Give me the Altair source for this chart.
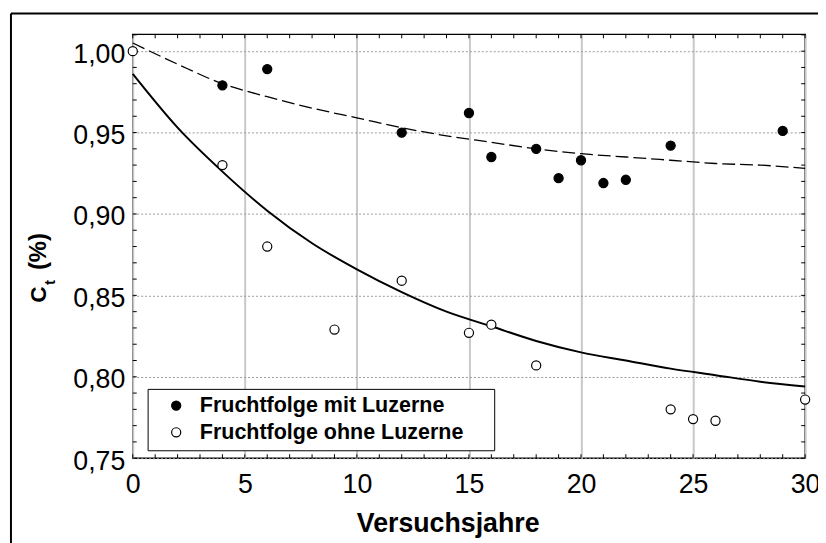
import altair as alt
import pandas as pd

FONT = "Liberation Sans, Arial, Helvetica, sans-serif"

# ---------------- data ----------------
series_names = ["Fruchtfolge mit Luzerne", "Fruchtfolge ohne Luzerne"]

years_mit = [4, 6, 12, 15, 16, 18, 19, 20, 21, 22, 24, 29]
ct_mit = [0.979, 0.989, 0.950, 0.962, 0.935, 0.940, 0.922, 0.933, 0.919, 0.921, 0.942, 0.951]

years_ohne = [0, 4, 6, 9, 12, 15, 16, 18, 24, 25, 26, 30]
ct_ohne = [1.000, 0.930, 0.880, 0.829, 0.859, 0.827, 0.832, 0.807, 0.780, 0.774, 0.773, 0.786]

curve_years = [0, 2, 4, 6, 8, 10, 12, 14, 16, 18, 20, 22, 24, 26, 28, 30]
fit_mit = [1.005, 0.992, 0.980, 0.972, 0.965, 0.959, 0.953, 0.948, 0.944, 0.940,
           0.937, 0.935, 0.933, 0.931, 0.930, 0.928]
fit_ohne = [0.986, 0.953, 0.926, 0.902, 0.882, 0.866, 0.852, 0.840, 0.831, 0.822,
            0.815, 0.810, 0.805, 0.801, 0.797, 0.794]

x_ticks_major = [0, 5, 10, 15, 20, 25, 30]
y_ticks_major = [0.75, 0.80, 0.85, 0.90, 0.95, 1.00]
x_ticks_minor = [0, 1, 2, 3, 4, 5, 6, 7, 8, 9, 10, 11, 12, 13, 14, 15, 16, 17, 18, 19,
                 20, 21, 22, 23, 24, 25, 26, 27, 28, 29, 30]
y_ticks_minor = [0.75, 0.76, 0.77, 0.78, 0.79, 0.80, 0.81, 0.82, 0.83, 0.84, 0.85, 0.86,
                 0.87, 0.88, 0.89, 0.90, 0.91, 0.92, 0.93, 0.94, 0.95, 0.96, 0.97, 0.98,
                 0.99, 1.00, 1.01]

x_title = "Versuchsjahre"
y_title_main = "C"
y_title_sub = "t"
y_title_unit = "(%)"

# ---------------- layout ----------------
W, H = 679, 428
x_domain = [0, 30]
y_domain = [0.75, 1.0103]

xs = alt.Scale(domain=x_domain, nice=False, zero=False)
ys = alt.Scale(domain=y_domain, nice=False, zero=False)

x_axis = alt.Axis(
    values=x_ticks_major, title=x_title, format="d",
    domain=False, ticks=False, tickSize=0,
    labelFont=FONT, labelFontSize=27, labelColor="black", labelPadding=14,
    labelFlush=False, labelOverlap=False,
    grid=True, gridColor="#c8c8c8", gridWidth=2, gridOpacity=1,
    titleFont=FONT, titleFontSize=27, titleFontWeight="bold", titleColor="black",
    titleX=318, titleY=53, titleAlign="center", titleBaseline="top",
)
y_axis = alt.Axis(
    values=y_ticks_major, title=None,
    domain=False, ticks=False, tickSize=0,
    labelFont=FONT, labelFontSize=27, labelColor="black", labelPadding=8,
    labelExpr="replace(format(datum.value, '.2f'), '.', ',')",
    labelOffset=3, labelOverlap=False,
    grid=True, gridColor="#9a9a9a", gridDash=[2, 2], gridWidth=1, gridOpacity=1,
)

X = alt.X("x:Q", scale=xs, axis=x_axis)
Y = alt.Y("y:Q", scale=ys, axis=y_axis)

pts = pd.DataFrame({
    "x": years_mit + years_ohne,
    "y": ct_mit + ct_ohne,
    "series": [series_names[0]] * len(years_mit) + [series_names[1]] * len(years_ohne),
})
curve_mit_df = pd.DataFrame({"x": curve_years, "y": fit_mit})
curve_ohne_df = pd.DataFrame({"x": curve_years, "y": fit_ohne})
xt_df = pd.DataFrame({"x": x_ticks_minor})
yt_df = pd.DataFrame({"y": y_ticks_minor})
one = pd.DataFrame({"k": [0]})

# trailing non-breaking spaces, closed by a zero-width space so they are not trimmed
label_tail = "\u00a0" * 4 + "\u200b"

line_ohne = alt.Chart(curve_ohne_df).mark_line(
    color="black", strokeWidth=2, interpolate="monotone"
).encode(x=X, y=Y)

line_mit = alt.Chart(curve_mit_df).mark_line(
    color="black", strokeWidth=1.3, strokeDash=[13, 5], interpolate="monotone"
).encode(x=X, y=Y)

points = alt.Chart(pts).mark_circle(
    size=85, opacity=1, stroke="black", strokeWidth=1.2
).encode(
    x=X, y=Y,
    fill=alt.Fill(
        "series:N",
        scale=alt.Scale(domain=series_names, range=["black", "white"]),
        legend=alt.Legend(
            title=None, orient="none", legendX=15, legendY=358, direction="vertical",
            fillColor="white", strokeColor="black", padding=6, rowPadding=4,
            symbolType="circle", symbolSize=85, symbolStrokeColor="black",
            symbolStrokeWidth=1.2, symbolOffset=12, labelOffset=13,
            labelFont=FONT, labelFontSize=21.7, labelFontWeight="bold", labelColor="black",
            labelExpr="datum.label + '" + label_tail + "'", labelLimit=0,
        ),
    ),
)

# inward minor ticks on all four sides
tick_bottom = alt.Chart(xt_df).mark_rule(color="black", strokeWidth=1).encode(
    x=X, y=alt.value(H), y2=alt.value(H - 4))
tick_top = alt.Chart(xt_df).mark_rule(color="black", strokeWidth=1).encode(
    x=X, y=alt.value(0), y2=alt.value(4))
tick_left = alt.Chart(yt_df).mark_rule(color="black", strokeWidth=1).encode(
    y=Y, x=alt.value(0), x2=alt.value(4))
tick_right = alt.Chart(yt_df).mark_rule(color="black", strokeWidth=1).encode(
    y=Y, x=alt.value(W), x2=alt.value(W - 4))

# y-axis title: C with subscript t, then (%)
t_c = alt.Chart(one).mark_text(
    text=y_title_main, angle=270, align="left", baseline="alphabetic",
    font=FONT, fontSize=23, fontWeight="bold", color="black"
).encode(x=alt.value(-88), y=alt.value(271))
t_t = alt.Chart(one).mark_text(
    text=y_title_sub, angle=270, align="left", baseline="alphabetic",
    font=FONT, fontSize=15, fontWeight="bold", color="black"
).encode(x=alt.value(-79), y=alt.value(253))
t_u = alt.Chart(one).mark_text(
    text=y_title_unit, angle=270, align="left", baseline="alphabetic",
    font=FONT, fontSize=24, fontWeight="bold", color="black"
).encode(x=alt.value(-88), y=alt.value(238))

# outer picture frame (clipped at the right and bottom)
frame_left = alt.Chart(one).mark_rule(color="black", strokeWidth=2).encode(
    x=alt.value(-123), y=alt.value(-21), y2=alt.value(700))
frame_top = alt.Chart(one).mark_rule(color="black", strokeWidth=2).encode(
    x=alt.value(-123), x2=alt.value(900), y=alt.value(-21))

chart = alt.layer(
    line_ohne, line_mit, tick_bottom, tick_top, tick_left, tick_right,
    points, t_c, t_t, t_u, frame_left, frame_top,
).properties(
    width=W, height=H,
    autosize=alt.AutoSizeParams(type="none"),
    padding={"left": 126, "top": 24, "right": 13, "bottom": 83},
    background="white",
).configure_view(
    stroke="black", strokeWidth=1.5
)

chart.save("out.html", embed_options={"renderer": "svg", "actions": False})
